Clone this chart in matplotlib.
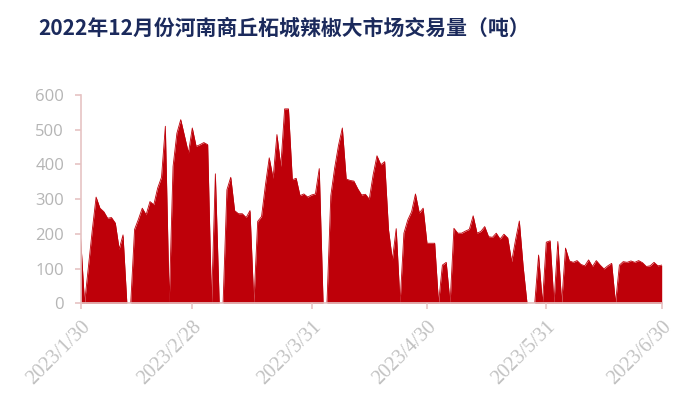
import matplotlib
matplotlib.use("Agg")
import matplotlib.pyplot as plt
import pandas as pd
import numpy as np

title = "2022年12月份河南商丘柘城辣椒大市场交易量（吨）"
start_date = "2023-01-30"
end_date = "2023-06-30"
volume = [
    185, 0, 105, 210, 306, 274, 264, 245, 247, 231,
    156, 197, 0, 0, 213, 242, 274, 255, 293, 284,
    332, 363, 510, 0, 394, 490, 529, 481, 433, 505,
    452, 457, 463, 457, 0, 373, 0, 0, 327, 363,
    267, 258, 258, 247, 267, 0, 236, 250, 340, 419,
    360, 486, 394, 560, 560, 356, 360, 310, 315, 306,
    312, 315, 388, 0, 0, 310, 390, 455, 505, 358,
    354, 352, 330, 312, 314, 300, 370, 425, 399, 408,
    212, 125, 215, 0, 202, 240, 264, 315, 260, 274,
    173, 173, 173, 0, 110, 118, 0, 216, 202, 202,
    208, 213, 252, 202, 207, 221, 192, 190, 202, 185,
    199, 188, 120, 182, 237, 105, 0, 0, 0, 139,
    0, 176, 180, 0, 178, 0, 159, 122, 118, 123,
    112, 108, 125, 106, 123, 110, 99, 108, 115, 0,
    110, 120, 118, 122, 118, 123, 117, 106, 108, 118,
    108, 110,
]
tick_dates = ["2023-01-30", "2023-02-28", "2023-03-31", "2023-04-30", "2023-05-31", "2023-06-30"]
tick_labels = ["2023/1/30", "2023/2/28", "2023/3/31", "2023/4/30", "2023/5/31", "2023/6/30"]
yticks = [0, 100, 200, 300, 400, 500, 600]

dates = pd.date_range(start_date, end_date, freq="D")
vals = np.array(volume[:len(dates)], dtype=float)

fig = plt.figure(figsize=(7, 4.2), dpi=100)
ax = fig.add_axes([80.7 / 700, (420 - 303.3) / 420, 581 / 700, 208.3 / 420])

red = "#BE0009"
ax.fill_between(dates, 0, vals, color=red, linewidth=0)
ax.plot(dates, vals, color=red, linewidth=0.6)

ax.set_xlim(dates[0], dates[-1])
ax.set_ylim(0, 600)

spine_c = "#E6C3C3"
for s in ["top", "right"]:
    ax.spines[s].set_visible(False)
for s in ["left", "bottom"]:
    ax.spines[s].set_color(spine_c)
    ax.spines[s].set_linewidth(1.2)

ax.set_yticks(yticks)
ax.set_yticklabels([str(v) for v in yticks], fontfamily="Open Sans", fontsize=12, color="#B5B5B5")
ax.tick_params(axis="y", length=4, width=1.2, color=spine_c, pad=8)

ax.set_xticks(pd.to_datetime(tick_dates))
ax.set_xticklabels(tick_labels, fontfamily="Liberation Serif", fontsize=14.5, color="#C2C2C2",
                   rotation=45, ha="right", va="top", rotation_mode="anchor")
ax.tick_params(axis="x", length=4, width=1.2, color=spine_c, pad=6)

fig.text(38 / 700, 1 - 28.5 / 420, title, fontfamily=["Noto Sans CJK SC", "DejaVu Sans"],
         fontsize=15, fontweight="bold", color="#1B2A5C", va="center", ha="left")

fig.savefig("out.png", dpi=100)
